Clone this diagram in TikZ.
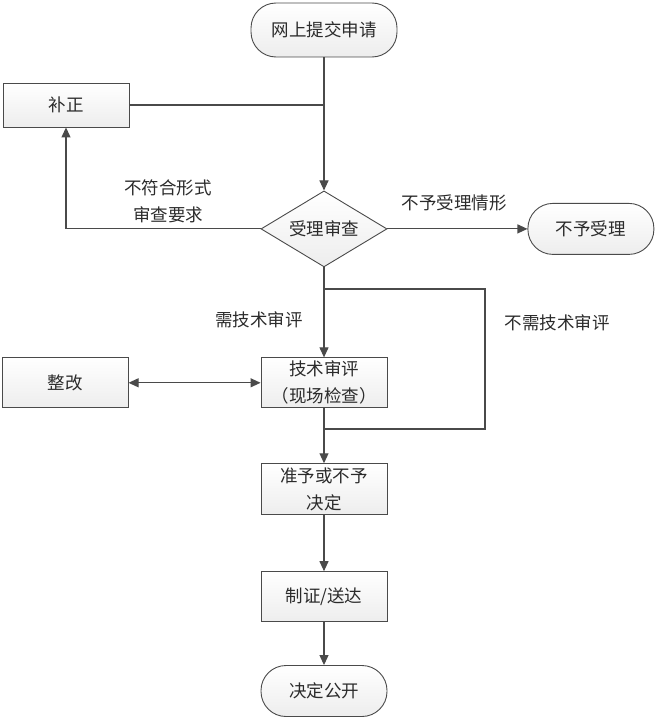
\documentclass[tikz,border=0pt]{standalone}
\usepackage{fontspec}
\newfontfamily\cjk{Noto Sans CJK SC}
\usetikzlibrary{arrows.meta,positioning,shapes.geometric,calc}
\definecolor{linegray}{HTML}{4A4A4A}
\definecolor{textgray}{HTML}{2B2B2B}

\begin{document}
\begin{tikzpicture}[
  x=1pt, y=1pt,
  font=\cjk\fontsize{17.5}{27}\selectfont,
  text=textgray,
  >={Triangle[length=10pt,width=9pt]},
  box/.style={
    draw=linegray,
    line width=0.9pt,
    top color=white,
    bottom color=gray!14,
    align=center,
    minimum width=126pt,
    inner sep=2pt
  },
  terminal/.style={
    box,
    rounded corners=25pt
  },
  decision/.style={
    box,
    diamond,
    shape aspect=1.66,
    minimum width=126pt,
    minimum height=76pt,
    inner sep=0pt
  },
  flow/.style={->,draw=linegray,line width=1.1pt},
  link/.style={draw=linegray,line width=1.1pt},
  note/.style={align=center,inner sep=0pt}
]
\useasboundingbox (0,0) rectangle (658,-717);

% main column
\node[terminal,minimum width=146pt,minimum height=54pt] (apply) at (324,-30) {网上提交申请};
\node[decision,below=133pt of apply] (accept) {受理审查};
\node[box,minimum height=50pt,below=90pt of accept] (review) {技术审评\\（现场检查）};
\node[box,minimum height=51pt,below=55pt of review] (decide) {准予或不予\\决定};
\node[box,minimum height=50pt,below=56pt of decide] (issue) {制证/送达};
\node[terminal,minimum height=51pt,below=43pt of issue] (publish) {决定公开};

% side nodes
\node[box,minimum height=44pt] (amend) at (66,-105) {补正};
\node[terminal,minimum height=51pt,right=140pt of accept] (refuse) {不予受理};
\node[box,minimum height=50pt,left=132pt of review] (rectify) {整改};

% junctions
\coordinate (split) at (324,-289);
\coordinate (splitR) at (485,-289);
\coordinate (mergeR) at (485,-429);
\coordinate (merge) at (324,-429);

% labels
\node[note] (lblform) at (168,-201) {不符合形式\\审查要求};
\node[note] (lblrefuse) at (454,-203) {不予受理情形};
\node[note] (lblneed) at (259,-320) {需技术审评};
\node[note] (lblskip) at (557,-323) {不需技术审评};

% connectors
\draw[flow] (apply) -- (accept);
\draw[link] (amend.east) -- (amend.east -| apply);
\draw[flow] (accept.west) -| (amend.south);
\draw[flow] (accept) -- (refuse);
\draw[flow] (accept) -- (review);
\draw[link] (split) -- (splitR) -- (mergeR) -- (merge);
\draw[flow] (review) -- (decide);
\draw[<->,draw=linegray,line width=1.1pt] (rectify) -- (review);
\draw[flow] (decide) -- (issue);
\draw[flow] (issue) -- (publish);
\end{tikzpicture}
\end{document}
